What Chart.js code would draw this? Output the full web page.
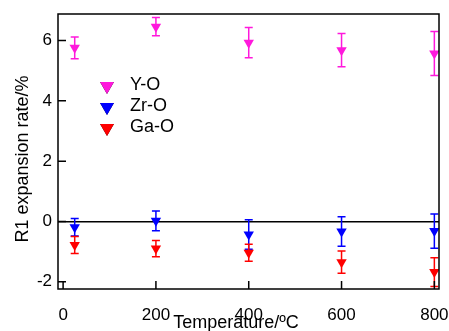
<!DOCTYPE html>
<html>
<head>
<meta charset="utf-8">
<script src="https://cdn.jsdelivr.net/npm/chart.js@4"></script>
<style>
  html, body { margin: 0; padding: 0; background: #fff; }
</style>
</head>
<body>
<canvas id="chart" width="449" height="331"></canvas>
<script>
const temps = [25, 200, 400, 600, 800];
const yoValues = [5.76, 6.46, 5.93, 5.68, 5.57];
const yoErrors = [0.36, 0.30, 0.50, 0.55, 0.73];
const zroValues = [-0.19, 0.02, -0.43, -0.33, -0.32];
const zroErrors = [0.29, 0.33, 0.49, 0.49, 0.57];
const gaoValues = [-0.78, -0.90, -1.04, -1.35, -1.68];
const gaoErrors = [0.28, 0.27, 0.28, 0.37, 0.48];
const xTicks = [0, 200, 400, 600, 800];
const yTicks = [-2, 0, 2, 4, 6];

const FONT = 'Liberation Sans, Arial, sans-serif';

function series(label, values, errors, color) {
  return {
    label: label,
    data: temps.map((t, i) => ({ x: t, y: values[i] })),
    errors: errors,
    backgroundColor: color,
    borderColor: color,
    pointStyle: 'triangle',
    rotation: 180,
    pointRadius: 6,
    pointHoverRadius: 6,
    borderWidth: 0,
    showLine: false
  };
}

// vertical error bars with caps, drawn under the markers
const errorBars = {
  id: 'errorBars',
  beforeDatasetsDraw(chart) {
    const { ctx, scales: { x, y } } = chart;
    ctx.save();
    ctx.lineWidth = 1.5;
    chart.data.datasets.forEach(ds => {
      ctx.strokeStyle = ds.borderColor;
      ds.data.forEach((p, i) => {
        const px = x.getPixelForValue(p.x);
        const top = y.getPixelForValue(p.y + ds.errors[i]);
        const bot = y.getPixelForValue(p.y - ds.errors[i]);
        ctx.beginPath();
        ctx.moveTo(px, top); ctx.lineTo(px, bot);
        ctx.moveTo(px - 4, top); ctx.lineTo(px + 4, top);
        ctx.moveTo(px - 4, bot); ctx.lineTo(px + 4, bot);
        ctx.stroke();
      });
    });
    ctx.restore();
  }
};

// box around the plot and inward ticks
const frame = {
  id: 'frame',
  afterDraw(chart) {
    const { ctx, chartArea: a, scales: { x, y } } = chart;
    ctx.save();
    ctx.strokeStyle = '#000';
    ctx.lineWidth = 1.5;
    ctx.strokeRect(a.left, a.top, a.right - a.left, a.bottom - a.top);
    ctx.beginPath();
    x.ticks.forEach(t => {
      const px = x.getPixelForValue(t.value);
      ctx.moveTo(px, a.bottom); ctx.lineTo(px, a.bottom - 8);
    });
    y.ticks.forEach(t => {
      const py = y.getPixelForValue(t.value);
      ctx.moveTo(a.left, py); ctx.lineTo(a.left + 8, py);
    });
    ctx.stroke();
    ctx.restore();
  }
};

// legend inside the plot, upper left
const innerLegend = {
  id: 'innerLegend',
  afterDraw(chart) {
    const { ctx } = chart;
    ctx.save();
    ctx.font = '18px ' + FONT;
    ctx.textBaseline = 'middle';
    ctx.fillStyle = '#000';
    chart.data.datasets.forEach((ds, i) => {
      const cy = 86 + i * 21;
      Chart.helpers.drawPoint(ctx, {
        pointStyle: 'triangle', radius: 8, rotation: 180, borderWidth: 0
      }, 107, cy);
      ctx.fillStyle = ds.backgroundColor;
      ctx.fill();
      ctx.fillStyle = '#000';
      ctx.fillText(ds.label, 130, cy - 1);
    });
    ctx.restore();
  }
};

new Chart(document.getElementById('chart'), {
  type: 'scatter',
  data: {
    datasets: [
      series('Y-O', yoValues, yoErrors, '#ff18dc'),
      series('Zr-O', zroValues, zroErrors, '#0000ff'),
      series('Ga-O', gaoValues, gaoErrors, '#ff0000')
    ]
  },
  options: {
    responsive: false,
    animation: false,
    layout: { padding: { top: 14, right: 10, left: 0, bottom: 0 } },
    plugins: {
      legend: { display: false },
      tooltip: { enabled: false }
    },
    scales: {
      x: {
        type: 'linear',
        min: -11,
        max: 810,
        afterBuildTicks: s => { s.ticks = xTicks.map(v => ({ value: v })); },
        afterFit: s => { s.height = 42; s.paddingLeft = 0; s.paddingRight = 0; },
        grid: { display: false },
        border: { display: false },
        ticks: { color: '#000', padding: 8, maxRotation: 0, font: { family: FONT, size: 17 } },
        title: {
          display: true,
          text: 'Temperature/\u00baC     ',
          color: '#000',
          font: { family: FONT, size: 18 },
          padding: { top: 0, bottom: -3 }
        }
      },
      y: {
        min: -2.24,
        max: 6.88,
        afterBuildTicks: s => { s.ticks = yTicks.map(v => ({ value: v })); },
        afterFit: s => { s.width = 58; s.paddingTop = 0; s.paddingBottom = 0; },
        grid: {
          drawTicks: false,
          lineWidth: 1.5,
          color: c => (c.tick && c.tick.value === 0 ? '#000' : 'rgba(0,0,0,0)')
        },
        border: { display: false },
        ticks: { color: '#000', padding: 6, font: { family: FONT, size: 17 } },
        title: {
          display: true,
          text: 'R1 expansion rate/%   ',
          color: '#000',
          font: { family: FONT, size: 18 },
          padding: { top: 12, bottom: 0 }
        }
      }
    }
  },
  plugins: [errorBars, frame, innerLegend]
});
</script>
</body>
</html>
